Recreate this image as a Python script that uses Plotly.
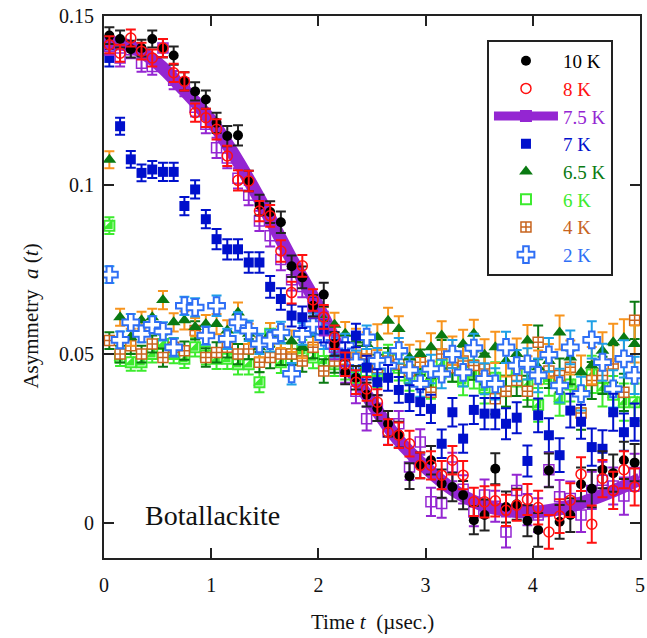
import plotly.graph_objects as go

t = [0.05, 0.15, 0.25, 0.35, 0.45, 0.55, 0.65, 0.75, 0.85, 0.95,
     1.05, 1.15, 1.25, 1.35, 1.45, 1.55, 1.65, 1.75, 1.85, 1.95,
     2.05, 2.15, 2.25, 2.35, 2.45, 2.55, 2.65, 2.75, 2.85, 2.95,
     3.05, 3.15, 3.25, 3.35, 3.45, 3.55, 3.65, 3.75, 3.85, 3.95,
     4.05, 4.15, 4.25, 4.35, 4.45, 4.55, 4.65, 4.75, 4.85, 4.95]

err = [0.0025, 0.0025, 0.0025, 0.0025, 0.0025, 0.0027, 0.0027, 0.0027, 0.0027, 0.0027,
       0.0030, 0.0030, 0.0030, 0.0030, 0.0030, 0.0032, 0.0032, 0.0032, 0.0032, 0.0032,
       0.0035, 0.0035, 0.0035, 0.0035, 0.0035, 0.0038, 0.0038, 0.0038, 0.0038, 0.0038,
       0.0042, 0.0042, 0.0042, 0.0042, 0.0042, 0.0046, 0.0046, 0.0046, 0.0046, 0.0046,
       0.0050, 0.0050, 0.0050, 0.0050, 0.0050, 0.0055, 0.0055, 0.0055, 0.0055, 0.0055]

a_10K = [0.1442, 0.1432, 0.1402, 0.1405, 0.1432, 0.1405, 0.1383, 0.1307, 0.1277, 0.1253,
         0.1184, 0.1145, 0.1147, 0.1012, 0.0941, 0.0920, 0.0890, 0.0760, 0.0727, 0.0643,
         0.0676, 0.0530, 0.0446, 0.0430, 0.0380, 0.0340, 0.0294, 0.0262, 0.0139, 0.0171,
         0.0186, 0.0117, 0.0107, 0.0083, 0.0009, 0.0024, 0.0161, 0.0048, 0.0056, 0.0007,
         -0.0020, 0.0156, 0.0004, 0.0024, 0.0115, 0.0102, 0.0158, 0.0148, 0.0186, 0.0179]

a_8K = [0.1415, 0.1390, 0.1435, 0.1396, 0.1376, 0.1405, 0.1332, 0.1307, 0.1214, 0.1199,
        0.1165, 0.1086, 0.1014, 0.1012, 0.0923, 0.0909, 0.0805, 0.0682, 0.0761, 0.0660,
        0.0610, 0.0550, 0.0470, 0.0417, 0.0397, 0.0358, 0.0269, 0.0260, 0.0235, 0.0171,
        0.0171, 0.0142, 0.0186, 0.0142, 0.0063, 0.0063, 0.0066, 0.0038, 0.0053, 0.0070,
        0.0046, -0.0026, 0.0021, 0.0068, 0.0145, -0.0003, 0.0132, 0.0097, 0.0158, 0.0107]

a_75K = [0.1410, 0.1376, 0.1400, 0.1360, 0.1351, 0.1405, 0.1310, 0.1290, 0.1230, 0.1180,
         0.1110, 0.1080, 0.1020, 0.0970, 0.0894, 0.0850, 0.0780, 0.0720, 0.0700, 0.0640,
         0.0590, 0.0520, 0.0450, 0.0390, 0.0309, 0.0340, 0.0270, 0.0294, 0.0166, 0.0240,
         0.0063, 0.0058, 0.0166, 0.0100, 0.0033, 0.0083, 0.0050, -0.0026, 0.0097, 0.0040,
         0.0024, 0.0158, 0.0078, 0.0073, 0.0024, 0.0097, 0.0127, 0.0110, 0.0080, 0.0150]

a_7K = [0.1376, 0.1174, 0.1076, 0.1036, 0.1046, 0.1039, 0.1039, 0.0938, 0.0987, 0.0899,
        0.0840, 0.0810, 0.0810, 0.0771, 0.0771, 0.0699, 0.0663, 0.0614, 0.0609, 0.0638,
        0.0569, 0.0530, 0.0500, 0.0555, 0.0460, 0.0417, 0.0430, 0.0394, 0.0370, 0.0358,
        0.0338, 0.0235, 0.0328, 0.0250, 0.0335, 0.0324, 0.0324, 0.0294, 0.0312, 0.0184,
        0.0319, 0.0260, 0.0201, 0.0333, 0.0300, 0.0225, 0.0220, 0.0328, 0.0269, 0.0299]

a_65K = [0.1075, 0.0609, 0.0550, 0.0600, 0.0609, 0.0660, 0.0594, 0.0600, 0.0580, 0.0589,
         0.0589, 0.0570, 0.0623, 0.0560, 0.0520, 0.0560, 0.0550, 0.0538, 0.0520, 0.0560,
         0.0604, 0.0587, 0.0560, 0.0540, 0.0530, 0.0550, 0.0599, 0.0574, 0.0490, 0.0500,
         0.0520, 0.0555, 0.0510, 0.0530, 0.0560, 0.0498, 0.0520, 0.0480, 0.0500, 0.0540,
         0.0461, 0.0480, 0.0564, 0.0490, 0.0446, 0.0466, 0.0510, 0.0535, 0.0548, 0.0530]

a_6K = [0.0880, 0.0490, 0.0476, 0.0476, 0.0500, 0.0530, 0.0500, 0.0486, 0.0520, 0.0496,
        0.0486, 0.0486, 0.0470, 0.0470, 0.0417, 0.0560, 0.0476, 0.0500, 0.0510, 0.0490,
        0.0480, 0.0470, 0.0460, 0.0450, 0.0470, 0.0440, 0.0490, 0.0460, 0.0430, 0.0450,
        0.0410, 0.0470, 0.0460, 0.0420, 0.0440, 0.0400, 0.0430, 0.0390, 0.0450, 0.0410,
        0.0350, 0.0427, 0.0368, 0.0410, 0.0390, 0.0440, 0.0400, 0.0380, 0.0358, 0.0358]

a_4K = [0.0540, 0.0500, 0.0525, 0.0500, 0.0530, 0.0490, 0.0520, 0.0510, 0.0570, 0.0490,
        0.0505, 0.0520, 0.0500, 0.0515, 0.0476, 0.0490, 0.0500, 0.0500, 0.0480, 0.0520,
        0.0450, 0.0480, 0.0470, 0.0490, 0.0500, 0.0460, 0.0480, 0.0470, 0.0450, 0.0476,
        0.0387, 0.0500, 0.0460, 0.0480, 0.0466, 0.0456, 0.0368, 0.0390, 0.0422, 0.0390,
        0.0535, 0.0450, 0.0437, 0.0461, 0.0326, 0.0422, 0.0437, 0.0471, 0.0387, 0.0600]

a_2K = [0.0735, 0.0542, 0.0594, 0.0560, 0.0587, 0.0567, 0.0520, 0.0643, 0.0638, 0.0555,
        0.0643, 0.0545, 0.0594, 0.0569, 0.0530, 0.0540, 0.0564, 0.0442, 0.0560, 0.0589,
        0.0550, 0.0525, 0.0525, 0.0476, 0.0550, 0.0480, 0.0466, 0.0510, 0.0453, 0.0412,
        0.0456, 0.0441, 0.0500, 0.0446, 0.0518, 0.0427, 0.0412, 0.0520, 0.0466, 0.0471,
        0.0437, 0.0498, 0.0407, 0.0520, 0.0383, 0.0542, 0.0476, 0.0397, 0.0486, 0.0437]

t_fit = [0.0, 0.25, 0.5, 0.75, 1.0, 1.25, 1.5, 1.75, 2.0, 2.25, 2.5,
         2.75, 3.0, 3.25, 3.5, 3.75, 4.0, 4.25, 4.5, 4.75, 5.0]
a_fit = [0.1425, 0.1410, 0.1360, 0.1280, 0.1190, 0.1070, 0.0930, 0.0780, 0.0640, 0.0480, 0.0355,
         0.0245, 0.0165, 0.0100, 0.0058, 0.0038, 0.0033, 0.0042, 0.0065, 0.0095, 0.0130]

labels = ["10 K", "8 K", "7.5 K", "7 K", "6.5 K", "6 K", "4 K", "2 K"]
x_ticks = [0, 1, 2, 3, 4, 5]
y_ticks = [0, 0.05, 0.1, 0.15]
y_ticktext = ["0", "0.05", "0.1", "0.15"]

C_BLACK = "#000000"
C_RED = "#FF1010"
C_PURPLE = "#9426D2"
C_BLUE = "#0010CC"
C_DGREEN = "#0A7A12"
C_LGREEN = "#3CEB2E"
C_BROWN = "#C8641E"
C_ORANGE = "#F7941D"
C_2K = "#2F6FF5"
C_SKY = "#1EA0E6"
FONT = "Liberation Serif, Times New Roman, DejaVu Serif, serif"


def lab(i, c):
    return "<span style='color:%s'>%s</span>" % (c, labels[i])


def ebar(c):
    return dict(type="data", array=err, color=c, thickness=2, width=5)


fig = go.Figure()

# fit line (bottom)
fig.add_trace(go.Scatter(x=t_fit, y=a_fit, mode="lines", line=dict(color=C_PURPLE, width=13, shape="spline"),
                         showlegend=False, hoverinfo="skip"))

# 6 K
fig.add_trace(go.Scatter(x=t, y=a_6K, mode="markers", name=lab(5, C_LGREEN), legendrank=6,
                         marker=dict(symbol="square", size=10, color="white", line=dict(color=C_LGREEN, width=2)),
                         error_y=ebar(C_LGREEN)))
fig.add_trace(go.Scatter(x=t, y=a_6K, mode="markers", showlegend=False,
                         marker=dict(symbol="triangle-se", size=11, color=C_LGREEN, line=dict(width=0))))
# 4 K
fig.add_trace(go.Scatter(x=t, y=a_4K, mode="markers", name=lab(6, C_BROWN), legendrank=7,
                         marker=dict(symbol="square-cross", size=10, color="white", line=dict(color=C_BROWN, width=1.5)),
                         error_y=ebar(C_DGREEN)))
# 6.5 K
fig.add_trace(go.Scatter(x=t, y=a_65K, mode="markers", name=lab(4, C_DGREEN), legendrank=5,
                         marker=dict(symbol="triangle-up", size=12, color=C_DGREEN, line=dict(width=0)),
                         error_y=ebar(C_ORANGE)))
# 2 K
fig.add_trace(go.Scatter(x=t, y=a_2K, mode="markers", name=lab(7, C_2K), legendrank=8,
                         marker=dict(symbol="cross", size=14, color="white", line=dict(color=C_2K, width=2)),
                         error_y=ebar(C_SKY)))
# 7 K
fig.add_trace(go.Scatter(x=t, y=a_7K, mode="markers", name=lab(3, C_BLUE), legendrank=4,
                         marker=dict(symbol="square", size=10, color=C_BLUE, line=dict(width=0)),
                         error_y=ebar(C_BLUE)))
# 7.5 K data
fig.add_trace(go.Scatter(x=t, y=a_75K, mode="markers", showlegend=False,
                         marker=dict(symbol="square-open", size=10, color=C_PURPLE, line=dict(width=1.5)),
                         error_y=ebar(C_PURPLE)))
# 7.5 K legend entry
fig.add_trace(go.Scatter(x=[None], y=[None], mode="lines+markers", name=lab(2, C_PURPLE), legendrank=3,
                         line=dict(color=C_PURPLE, width=9),
                         marker=dict(symbol="square", size=12, color=C_PURPLE)))
# 10 K
fig.add_trace(go.Scatter(x=t, y=a_10K, mode="markers", name=lab(0, C_BLACK), legendrank=1,
                         marker=dict(symbol="circle", size=10, color=C_BLACK, line=dict(width=0)),
                         error_y=ebar("#222222")))
# 8 K
fig.add_trace(go.Scatter(x=t, y=a_8K, mode="markers", name=lab(1, C_RED), legendrank=2,
                         marker=dict(symbol="circle-open", size=10, color=C_RED, line=dict(width=1.5)),
                         error_y=ebar(C_RED)))

axis_common = dict(showline=True, linecolor="#222222", linewidth=2, mirror="ticks", ticks="inside",
                   ticklen=10, tickwidth=2, tickcolor="#222222", showgrid=False, zeroline=False,
                   tickfont=dict(family=FONT, size=20, color="#111111"))

fig.update_layout(
    width=647, height=638,
    margin=dict(l=104, r=2, t=16, b=80),
    paper_bgcolor="white", plot_bgcolor="white",
    font=dict(family=FONT, size=20, color="#111111"),
    xaxis=dict(range=[0, 5], tickvals=x_ticks, ticklabelstandoff=8, ticklabeloverflow="allow", **axis_common),
    yaxis=dict(range=[-0.0103, 0.15], tickvals=y_ticks, ticktext=y_ticktext, ticklabelstandoff=4, **axis_common),
    legend=dict(x=0.7145, y=0.956, xanchor="left", yanchor="top", bgcolor="white",
                bordercolor="#222222", borderwidth=2, font=dict(family=FONT, size=19),
                itemwidth=64, tracegroupgap=0),
    showlegend=True,
    annotations=[
        dict(text="Botallackite", x=0.36, y=0.0024, xref="x", yref="y", xanchor="left", yanchor="middle",
             showarrow=False, font=dict(family=FONT, size=28, color="#111111")),
        dict(text="Time <i>t</i>  (µsec.)", x=0.5, y=(558 - 622) / 542.0, xref="paper", yref="paper",
             xanchor="center", yanchor="middle", showarrow=False,
             font=dict(family=FONT, size=21, color="#111111")),
        dict(text="Asymmetry  <i>a</i> (<i>t</i>)", x=-0.137, y=0.4465, xref="paper", yref="paper",
             xanchor="center", yanchor="middle", textangle=-90, showarrow=False,
             font=dict(family=FONT, size=21, color="#111111")),
    ],
)

fig.write_html("out.html")
